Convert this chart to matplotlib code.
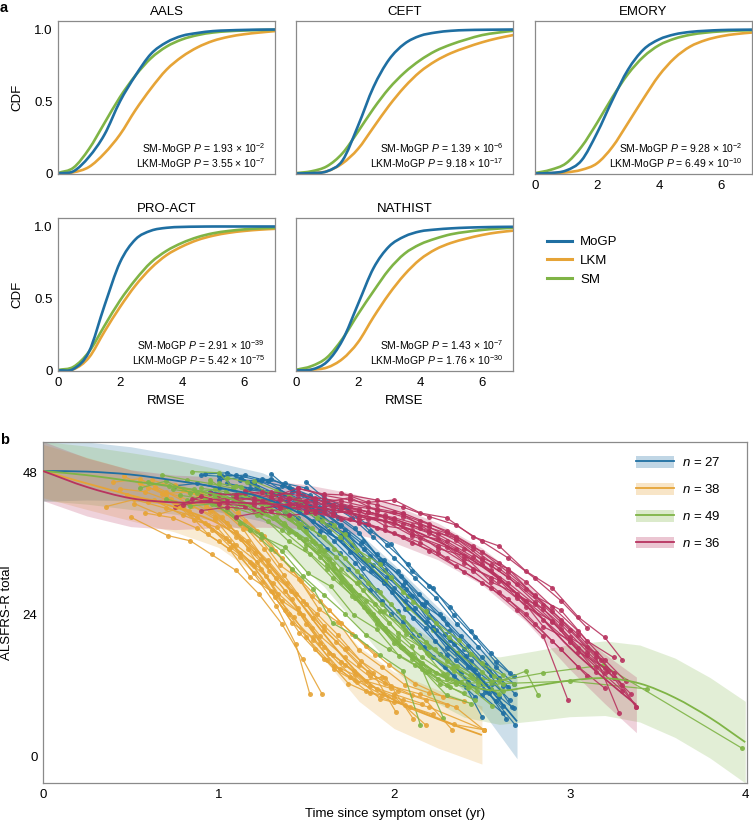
"""CDF of model RMSE per cohort (a) and clustered ALSFRS-R trajectories (b)."""

import matplotlib
matplotlib.use("Agg")
import matplotlib.pyplot as plt
import numpy as np
from matplotlib.lines import Line2D
from matplotlib.patches import Patch, PathPatch
from matplotlib.path import Path


plt.rcParams["font.family"] = ["Liberation Sans", "DejaVu Sans"]
plt.rcParams["font.size"] = 9.5
plt.rcParams["mathtext.fontset"] = "custom"
plt.rcParams["mathtext.rm"] = "Liberation Sans"
plt.rcParams["mathtext.it"] = "Liberation Sans:italic"
plt.rcParams["mathtext.bf"] = "Liberation Sans:bold"

# ---- panel a data -------------------------------------------------------
MODELS = ["MoGP", "LKM", "SM"]
MODEL_COLORS = {"MoGP": "#1f6fa2", "LKM": "#e6a437", "SM": "#7fb446"}

RMSE_GRID = [0, 0.5, 1, 1.5, 2, 2.5, 3, 3.5, 4, 4.5, 5, 5.5, 6, 6.5, 7]

AALS_CDF = {
	"MoGP": [0, 0.015, 0.115, 0.27, 0.5, 0.68, 0.83, 0.91, 0.955, 0.975, 0.988, 0.993, 0.996, 0.998, 0.999],
	"SM": [0.003, 0.04, 0.17, 0.35, 0.53, 0.68, 0.8, 0.88, 0.93, 0.96, 0.978, 0.987, 0.992, 0.995, 0.997],
	"LKM": [0, 0.008, 0.045, 0.14, 0.27, 0.44, 0.59, 0.72, 0.81, 0.875, 0.92, 0.948, 0.966, 0.978, 0.988],
}
CEFT_CDF = {
	"MoGP": [0, 0.002, 0.015, 0.09, 0.33, 0.6, 0.79, 0.9, 0.955, 0.978, 0.99, 0.995, 0.997, 0.998, 0.999],
	"SM": [0.002, 0.015, 0.05, 0.14, 0.29, 0.45, 0.59, 0.7, 0.785, 0.85, 0.895, 0.93, 0.96, 0.977, 0.99],
	"LKM": [0, 0.003, 0.015, 0.07, 0.17, 0.32, 0.47, 0.6, 0.705, 0.78, 0.835, 0.875, 0.91, 0.938, 0.96],
}
EMORY_CDF = {
	"MoGP": [0, 0.003, 0.02, 0.09, 0.28, 0.51, 0.72, 0.86, 0.93, 0.965, 0.982, 0.99, 0.995, 0.997, 0.998],
	"SM": [0.002, 0.025, 0.07, 0.185, 0.35, 0.53, 0.69, 0.81, 0.89, 0.935, 0.962, 0.977, 0.986, 0.991, 0.994],
	"LKM": [0, 0.002, 0.007, 0.025, 0.07, 0.185, 0.35, 0.52, 0.68, 0.8, 0.88, 0.925, 0.952, 0.968, 0.978],
}
PROACT_CDF = {
	"MoGP": [0, 0.01, 0.13, 0.45, 0.75, 0.91, 0.97, 0.99, 0.996, 0.998, 0.999, 0.999, 0.999, 0.999, 0.999],
	"SM": [0.003, 0.025, 0.13, 0.31, 0.485, 0.63, 0.75, 0.83, 0.885, 0.925, 0.952, 0.968, 0.979, 0.986, 0.99],
	"LKM": [0, 0.008, 0.09, 0.27, 0.44, 0.59, 0.71, 0.8, 0.86, 0.905, 0.935, 0.955, 0.968, 0.977, 0.983],
}
NATHIST_CDF = {
	"MoGP": [0, 0.006, 0.06, 0.21, 0.46, 0.71, 0.86, 0.93, 0.965, 0.978, 0.986, 0.991, 0.994, 0.996, 0.997],
	"SM": [0.004, 0.03, 0.09, 0.22, 0.39, 0.55, 0.7, 0.81, 0.875, 0.915, 0.945, 0.962, 0.975, 0.984, 0.99],
	"LKM": [0, 0.005, 0.02, 0.08, 0.195, 0.37, 0.53, 0.665, 0.77, 0.84, 0.885, 0.915, 0.94, 0.958, 0.97],
}

COHORTS = ["AALS", "CEFT", "EMORY", "PRO-ACT", "NATHIST"]
COHORT_CDF = [AALS_CDF, CEFT_CDF, EMORY_CDF, PROACT_CDF, NATHIST_CDF]
SM_PVALUES = [("1.93", "-2"), ("1.39", "-6"), ("9.28", "-2"), ("2.91", "-39"), ("1.43", "-7")]
LKM_PVALUES = [("3.55", "-7"), ("9.18", "-17"), ("6.49", "-10"), ("5.42", "-75"), ("1.76", "-30")]

# ---- panel b data -------------------------------------------------------
CLUSTER_LABELS = ["27", "38", "49", "36"]
CLUSTER_COLORS = ["#1f6fa2", "#e6a437", "#7fb446", "#b8335f"]

BLUE_T = [0, 0.25, 0.5, 0.75, 1.0, 1.25, 1.5, 1.75, 2.0, 2.25, 2.5, 2.7]
BLUE_MEAN = [48.3, 48.2, 47.7, 46.7, 45.5, 43.8, 40.5, 35, 28, 20.5, 13, 6]
BLUE_LOW = [43.2, 43.4, 43.3, 42.5, 41.4, 39.8, 36.5, 30.9, 23.6, 15.8, 7.8, -0.3]
BLUE_HIGH = [53.5, 53.2, 52.4, 51.1, 49.7, 48.0, 44.6, 39.2, 32.5, 25.3, 18.3, 13.3]

ORANGE_T = [0, 0.25, 0.5, 0.75, 1.0, 1.2, 1.4, 1.6, 1.8, 2.0, 2.25, 2.5]
ORANGE_MEAN = [48.3, 46.2, 44.2, 42.2, 39.4, 35.2, 28.6, 20.8, 14.0, 9.6, 6.4, 3.7]
ORANGE_LOW = [43.8, 41.8, 39.9, 38.0, 35.4, 31.2, 24.5, 16.5, 9.4, 4.8, 1.5, -1.2]
ORANGE_HIGH = [52.8, 50.6, 48.5, 46.4, 43.4, 39.2, 32.7, 25.1, 18.6, 14.4, 11.3, 8.6]

GREEN_T = [0, 0.25, 0.5, 0.75, 1.0, 1.2, 1.4, 1.6, 1.8, 2.0, 2.2, 2.4, 2.6, 2.8, 3.0, 3.2, 3.4, 3.6, 3.8, 4.0]
GREEN_MEAN = [48.3, 47.6, 46.6, 45.6, 44.2, 42.0, 38.4, 33.2, 26.4, 19.6, 15.0, 12.2, 11.2, 12.0, 12.9, 13.3, 12.4, 10.0, 6.6, 2.5]
GREEN_LOW = [43.3, 42.7, 41.8, 41.0, 39.8, 37.7, 34.1, 28.8, 21.8, 14.7, 9.8, 6.7, 5.5, 6.1, 6.8, 7.0, 5.9, 3.3, -0.2, -4.4]
GREEN_HIGH = [53.3, 52.5, 51.4, 50.2, 48.6, 46.3, 42.7, 37.6, 31.0, 24.5, 20.2, 17.7, 16.9, 17.9, 19.0, 19.6, 18.9, 16.7, 13.4, 9.4]

RED_T = [0, 0.25, 0.5, 0.75, 1.0, 1.25, 1.5, 1.75, 2.0, 2.25, 2.5, 2.75, 3.0, 3.2, 3.38]
RED_MEAN = [48.3, 45.6, 43.7, 43.0, 43.0, 42.8, 42.3, 41.2, 39.4, 36.4, 32.2, 26.2, 18.5, 13.2, 8.8]
RED_LOW = [43.3, 40.7, 38.9, 38.4, 38.7, 38.8, 38.6, 37.8, 36.2, 33.3, 29.1, 22.9, 14.8, 9.0, 4.1]
RED_HIGH = [53.3, 50.5, 48.5, 47.6, 47.3, 46.8, 46.0, 44.6, 42.6, 39.5, 35.3, 29.5, 22.2, 17.4, 13.5]

BLUE_PATIENTS = [
	[(0.9, 47.6), (1.02, 47.4), (1.15, 47.6), (1.28, 46.6), (1.4, 44.2), (1.52, 42.4), (1.64, 39.6), (1.76, 35.8), (1.88, 32.4), (2.0, 28.6), (2.12, 25.2), (2.24, 21.4), (2.36, 17.6), (2.48, 13.8), (2.6, 10.2)],
	[(1.0, 47.4), (1.1, 47.6), (1.22, 46.8), (1.34, 45.2), (1.46, 43.6), (1.58, 40.2), (1.7, 37.4), (1.82, 33.6), (1.94, 29.8), (2.06, 26.4), (2.18, 22.8), (2.3, 18.4), (2.42, 15.2), (2.55, 11.4), (2.68, 8.2)],
	[(1.12, 46.8), (1.24, 46.6), (1.36, 45.8), (1.48, 44.2), (1.6, 41.6), (1.72, 38.4), (1.84, 33.2), (1.96, 30.4), (2.08, 27.2), (2.2, 23.6), (2.32, 19.8), (2.44, 16.2), (2.56, 12.6), (2.66, 9.6)],
	[(1.3, 47.8), (1.42, 44.8), (1.54, 43.6), (1.66, 41.2), (1.78, 38.6), (1.9, 34.2), (2.02, 31.4), (2.14, 27.6), (2.26, 24.2), (2.38, 20.4), (2.5, 16.8), (2.6, 13.4), (2.69, 10.6)],
	[(1.05, 46.2), (1.18, 45.4), (1.3, 44.6), (1.42, 42.4), (1.54, 39.8), (1.66, 36.4), (1.78, 32.8), (1.9, 28.2), (2.02, 24.6), (2.14, 20.6), (2.26, 17.4), (2.38, 14.2), (2.5, 10.4), (2.62, 7.4)],
	[(0.95, 44.8), (1.08, 44.2), (1.2, 43.4), (1.32, 42.6), (1.45, 40.4), (1.57, 37.6), (1.69, 34.4), (1.81, 30.6), (1.93, 26.4), (2.05, 22.8), (2.17, 18.6), (2.29, 15.2), (2.41, 11.8), (2.5, 6.8)],
	[(1.2, 46.2), (1.33, 44.4), (1.45, 42.8), (1.58, 41.6), (1.7, 39.2), (1.82, 36.4), (1.94, 33.2), (2.06, 29.6), (2.18, 26.2), (2.3, 22.4), (2.42, 18.8), (2.54, 14.6), (2.65, 11.8)],
	[(1.4, 45.6), (1.52, 44.2), (1.64, 42.6), (1.76, 40.4), (1.88, 37.2), (2.0, 33.6), (2.12, 30.2), (2.24, 26.8), (2.36, 22.4), (2.48, 18.6), (2.58, 15.2), (2.68, 12.4)],
	[(1.15, 45.2), (1.27, 44.8), (1.39, 43.2), (1.51, 41.4), (1.63, 38.2), (1.75, 34.6), (1.87, 31.4), (1.99, 27.8), (2.11, 23.4), (2.23, 19.6), (2.35, 16.4), (2.47, 13.2), (2.58, 9.4), (2.69, 5.4)],
	[(1.5, 46.4), (1.6, 43.8), (1.72, 42.2), (1.84, 39.4), (1.96, 35.8), (2.08, 32.6), (2.2, 28.8), (2.32, 25.4), (2.44, 21.2), (2.55, 17.6), (2.66, 14.2)],
	[(0.75, 45.8), (0.88, 46.2), (1.0, 45.4), (1.12, 44.6), (1.25, 43.2), (1.38, 41.2), (1.5, 38.6), (1.62, 35.2), (1.74, 31.8), (1.86, 28.2), (1.98, 24.2), (2.1, 20.4), (2.22, 16.8), (2.34, 13.6), (2.46, 10.2)],
	[(1.35, 44.6), (1.47, 42.8), (1.59, 40.6), (1.71, 37.8), (1.83, 35.2), (1.95, 31.6), (2.07, 28.4), (2.19, 24.6), (2.31, 21.2), (2.43, 17.4), (2.55, 13.8), (2.67, 8.4)],
	[(0.92, 47.8), (1.05, 48.0), (1.18, 46.2), (1.3, 47.0), (1.42, 45.2), (1.55, 43.0), (1.68, 40.4), (1.8, 37.8), (1.92, 33.2), (2.04, 30.6), (2.16, 25.8), (2.28, 23.4), (2.4, 18.2), (2.52, 15.6), (2.62, 12.0)],
	[(1.1, 44.2), (1.22, 45.6), (1.34, 43.0), (1.46, 41.6), (1.58, 38.2), (1.7, 36.8), (1.82, 32.0), (1.94, 29.4), (2.06, 25.0), (2.18, 21.8), (2.3, 17.2), (2.42, 12.6), (2.54, 10.8), (2.64, 6.4)],
	[(1.25, 47.0), (1.38, 46.2), (1.5, 45.4), (1.62, 43.0), (1.74, 41.8), (1.86, 38.2), (1.98, 36.0), (2.1, 31.4), (2.22, 28.6), (2.34, 24.0), (2.46, 20.2), (2.58, 16.0), (2.68, 13.6)],
	[(1.45, 43.2), (1.57, 42.0), (1.69, 39.0), (1.81, 36.2), (1.93, 32.8), (2.05, 29.0), (2.17, 25.6), (2.29, 20.8), (2.41, 17.0), (2.52, 11.0), (2.62, 8.6)],
	[(1.0, 46.8), (1.13, 47.2), (1.25, 45.0), (1.37, 44.4), (1.5, 42.0), (1.62, 39.2), (1.74, 37.6), (1.86, 34.0), (1.98, 30.2), (2.1, 27.2), (2.22, 22.0), (2.34, 19.0), (2.46, 14.8), (2.56, 12.4)],
]

ORANGE_PATIENTS = [
	[(0.46, 47.4), (0.6, 45.5), (0.78, 44), (0.95, 41.5), (1.1, 38), (1.24, 33.5), (1.38, 28), (1.5, 22.5), (1.63, 17.5), (1.78, 13)],
	[(0.36, 42.3), (0.52, 43.5), (0.7, 42), (0.88, 40.5), (1.04, 37), (1.18, 33), (1.32, 27), (1.46, 21), (1.6, 16.5), (1.75, 13.5), (1.93, 10.5), (2.09, 8.5), (2.34, 5.5), (2.51, 4.6)],
	[(0.44, 45.3), (0.58, 44.8), (0.75, 43), (0.92, 39.5), (1.06, 36.5), (1.2, 31), (1.33, 25.5), (1.44, 19), (1.52, 10.6)],
	[(0.5, 40.5), (0.71, 37.4), (0.84, 36.5), (0.96, 34.2), (1.1, 31.5), (1.23, 27.5), (1.36, 22.5), (1.48, 16.5), (1.59, 10.6)],
	[(0.55, 46.2), (0.68, 44.5), (0.86, 44.8), (1.0, 42.2), (1.14, 38.5), (1.28, 32.5), (1.41, 28), (1.54, 23.5), (1.67, 19.5), (1.8, 15.5), (1.95, 12.5), (2.1, 10.5), (2.3, 8.8)],
	[(0.64, 45.6), (0.76, 42.2), (0.9, 43.2), (1.02, 40.5), (1.13, 36.8), (1.27, 30.5), (1.4, 24.2), (1.54, 19.8), (1.69, 14.8), (1.84, 11.2), (2.0, 9.2)],
	[(0.7, 44.2), (0.83, 41.6), (0.96, 38.4), (1.08, 35.8), (1.19, 32.6), (1.31, 29.4), (1.45, 25.2), (1.58, 20.4), (1.72, 16.8), (1.86, 13.6), (2.02, 11.2), (2.18, 9.6), (2.33, 4.6)],
	[(0.8, 45.2), (0.92, 43.8), (1.05, 41.2), (1.16, 38.6), (1.26, 35.2), (1.37, 30.8), (1.48, 26.4), (1.6, 22.2), (1.73, 18.4), (1.88, 14.2), (2.01, 7.6)],
	[(0.85, 42.4), (0.98, 40.6), (1.1, 37.2), (1.21, 34.4), (1.33, 30.2), (1.44, 27.6), (1.56, 24.2), (1.68, 20.6), (1.81, 16.2), (1.95, 13.4), (2.11, 6.4)],
	[(0.58, 41.2), (0.74, 40.4), (0.88, 38.6), (1.0, 36.4), (1.12, 33.8), (1.25, 29.6), (1.38, 24.8), (1.5, 20.2), (1.62, 16.4), (1.74, 12.4), (1.86, 10.8), (2.0, 10.2), (2.18, 5.4)],
	[(0.9, 44.6), (1.02, 43.2), (1.15, 39.8), (1.26, 37.4), (1.36, 33.6), (1.47, 29.8), (1.58, 26.4), (1.7, 22.6), (1.84, 18.8), (1.97, 15.6), (2.12, 12.4), (2.28, 10.2)],
	[(0.48, 44.2), (0.63, 43.4), (0.8, 40.8), (0.94, 39.2), (1.07, 35.4), (1.2, 32.2), (1.31, 27.8), (1.43, 23.6), (1.55, 18.2), (1.66, 14.8), (1.79, 12.6), (1.93, 13.5)],
	[(1.0, 44.2), (1.11, 41.4), (1.22, 38.2), (1.32, 34.8), (1.42, 31.6), (1.53, 27.2), (1.63, 24.8), (1.76, 20.8), (1.89, 17.2)],
	[(0.62, 46.8), (0.79, 45.2), (0.93, 42.4), (1.05, 39.6), (1.17, 35.2), (1.29, 31.4), (1.42, 26.6), (1.53, 21.8), (1.65, 17.2), (1.77, 14.6), (1.9, 11.4), (2.05, 9.6), (2.2, 8.4), (2.51, 4.6)],
	[(0.4, 46.4), (0.55, 47.0), (0.7, 44.8), (0.84, 42.6), (0.98, 40.2), (1.1, 35.8), (1.22, 33.0), (1.34, 27.6), (1.46, 24.4), (1.58, 19.2), (1.7, 16.0), (1.84, 12.8), (1.98, 11.6)],
	[(0.52, 42.8), (0.66, 41.0), (0.8, 42.2), (0.94, 37.6), (1.06, 35.2), (1.18, 30.4), (1.3, 28.0), (1.42, 22.6), (1.54, 20.2), (1.66, 15.4), (1.78, 13.8), (1.92, 9.8), (2.06, 8.8), (2.22, 7.2)],
	[(0.75, 46.0), (0.88, 44.4), (1.0, 43.0), (1.12, 39.4), (1.24, 36.8), (1.35, 32.4), (1.46, 30.0), (1.57, 25.0), (1.68, 22.8), (1.8, 18.0), (1.93, 15.2), (2.06, 12.2), (2.2, 10.8), (2.4, 9.4)],
	[(0.6, 43.0), (0.73, 43.6), (0.86, 40.0), (0.99, 38.8), (1.12, 34.4), (1.24, 31.8), (1.36, 26.4), (1.48, 24.0), (1.6, 18.6), (1.72, 15.6), (1.86, 12.0), (2.0, 10.6), (2.16, 9.0)],
	[(0.95, 41.8), (1.06, 39.0), (1.17, 36.4), (1.28, 33.2), (1.39, 29.4), (1.5, 25.8), (1.6, 21.4), (1.72, 18.2), (1.85, 14.4), (1.98, 12.0), (2.15, 10.6), (2.35, 8.4), (2.51, 4.6)],
]

GREEN_PATIENTS = [
	[(0.68, 47.6), (0.82, 46.8), (0.95, 46.2), (1.08, 45.4), (1.2, 43.2), (1.33, 40.6), (1.46, 37.2), (1.58, 33.8), (1.7, 29.6), (1.83, 25.4), (1.96, 21.2), (2.1, 17.4), (2.24, 14.2), (2.38, 12.6)],
	[(0.85, 48.2), (1.0, 48.0), (1.12, 44.4), (1.25, 42.8), (1.38, 39.2), (1.5, 36.8), (1.62, 32.4), (1.75, 28.6), (1.88, 24.2), (2.02, 19.6), (2.16, 15.8), (2.3, 13.2)],
	[(0.74, 45.2), (0.88, 44.6), (1.02, 43.4), (1.15, 42.2), (1.28, 39.8), (1.4, 36.4), (1.52, 34.2), (1.65, 30.2), (1.78, 26.8), (1.9, 22.4), (2.04, 18.6), (2.18, 14.4), (2.32, 11.8), (2.46, 9.6)],
	[(0.95, 46.8), (1.08, 44.2), (1.21, 43.6), (1.34, 41.2), (1.46, 38.8), (1.58, 35.6), (1.7, 31.8), (1.82, 28.2), (1.94, 24.6), (2.07, 20.8), (2.2, 17.2), (2.34, 14.6), (2.48, 12.4)],
	[(1.1, 45.8), (1.22, 43.8), (1.35, 42.6), (1.47, 39.4), (1.6, 37.2), (1.72, 33.6), (1.85, 29.4), (1.98, 25.8), (2.1, 21.6), (2.23, 18.2), (2.36, 15.4), (2.5, 13.2)],
	[(0.78, 44.2), (0.92, 43.6), (1.05, 41.8), (1.18, 38.4), (1.3, 35.2), (1.42, 31.8), (1.54, 28.4), (1.65, 22.6), (1.78, 20.4), (1.92, 17.2), (2.05, 14.6), (2.15, 5.4)],
	[(1.0, 46.2), (1.13, 45.6), (1.26, 43.4), (1.4, 41.8), (1.53, 38.6), (1.66, 35.2), (1.79, 31.4), (1.92, 27.8), (2.05, 23.6), (2.18, 19.4), (2.3, 16.2), (2.43, 13.8), (2.55, 11.4)],
	[(0.9, 45.4), (1.04, 44.8), (1.18, 42.6), (1.31, 40.4), (1.44, 37.6), (1.57, 34.8), (1.7, 30.2), (1.84, 26.4), (1.97, 22.6), (2.1, 18.8), (2.28, 6.6)],
	[(1.15, 44.6), (1.28, 42.4), (1.41, 40.2), (1.54, 36.4), (1.67, 33.8), (1.8, 29.6), (1.93, 25.8), (2.06, 21.4), (2.2, 18.6), (2.34, 15.2), (2.48, 12.8), (2.6, 10.6)],
	[(1.25, 44.8), (1.4, 40.4), (1.55, 36.2), (1.7, 30.4), (1.85, 24.6), (2.0, 19.2), (2.15, 15.4), (2.3, 12.2), (2.45, 13.4), (2.6, 12.8), (2.75, 14.5), (2.82, 10.5)],
	[(1.3, 43.2), (1.45, 39.6), (1.6, 34.8), (1.75, 28.8), (1.9, 23.2), (2.05, 18.4), (2.2, 14.6), (2.35, 12.4), (2.55, 12.6), (2.85, 14.2), (3.19, 15.5), (3.98, 1.5)],
	[(1.35, 42.4), (1.5, 38.2), (1.65, 32.6), (1.8, 27.4), (1.95, 21.8), (2.1, 16.6), (2.25, 13.2), (2.42, 11.6), (2.62, 12.4), (3.0, 12.8), (3.44, 11.5)],
	[(0.6, 46.4), (0.72, 45.8), (0.86, 45.2), (0.98, 44.0), (1.1, 42.0), (1.22, 40.8), (1.36, 38.4), (1.49, 35.2), (1.62, 31.8), (1.76, 27.2), (1.89, 23.4), (2.02, 20.2), (2.16, 16.8), (2.3, 14.0)],
	[(1.05, 47.2), (1.16, 46.4), (1.29, 44.6), (1.42, 42.2), (1.56, 40.4), (1.69, 37.2), (1.82, 33.4), (1.95, 29.8), (2.08, 25.2), (2.22, 21.4), (2.36, 17.6), (2.5, 14.4), (2.62, 11.2)],
	[(0.82, 43.4), (0.96, 42.8), (1.1, 40.4), (1.24, 37.6), (1.36, 34.8), (1.48, 30.6), (1.6, 27.4), (1.72, 24.2), (1.84, 20.6), (1.97, 18.2), (2.12, 15.6), (2.26, 12.4), (2.4, 10.8)],
	[(0.55, 45.4), (0.7, 46.6), (0.84, 44.6), (0.98, 45.2), (1.12, 42.8), (1.26, 41.6), (1.4, 38.0), (1.53, 36.4), (1.66, 32.0), (1.79, 29.4), (1.92, 24.6), (2.05, 22.2), (2.19, 17.6), (2.33, 15.0), (2.47, 11.2)],
	[(0.98, 44.0), (1.11, 43.6), (1.24, 41.0), (1.37, 39.6), (1.5, 35.8), (1.63, 33.4), (1.76, 28.2), (1.89, 25.8), (2.02, 21.0), (2.15, 18.6), (2.28, 14.0), (2.42, 12.0), (2.56, 8.6)],
	[(1.2, 46.6), (1.33, 45.0), (1.46, 43.4), (1.59, 39.8), (1.72, 37.6), (1.85, 33.2), (1.98, 30.4), (2.11, 26.2), (2.24, 22.6), (2.37, 19.8), (2.5, 15.8), (2.62, 13.8)],
	[(0.7, 43.6), (0.84, 42.4), (0.98, 42.8), (1.12, 39.6), (1.25, 37.2), (1.38, 35.4), (1.51, 31.0), (1.64, 28.8), (1.77, 24.0), (1.9, 21.6), (2.03, 17.0), (2.16, 14.8), (2.3, 10.4), (2.44, 9.0)],
	[(1.4, 44.0), (1.53, 41.4), (1.66, 39.2), (1.79, 35.0), (1.92, 32.6), (2.05, 27.8), (2.18, 24.6), (2.31, 20.2), (2.44, 17.4), (2.57, 13.6), (2.68, 12.4)],
]

RED_PATIENTS = [
	[(0.8, 42.6), (0.95, 43.4), (1.1, 43.8), (1.25, 43.2), (1.4, 43.6), (1.55, 42.8), (1.7, 42.2), (1.85, 41.4), (2.0, 40.2), (2.15, 38.6), (2.3, 36.4), (2.45, 33.8), (2.6, 30.2), (2.75, 26.4), (2.9, 22.8), (3.05, 18.4), (3.2, 14.2)],
	[(1.0, 44.2), (1.15, 44.6), (1.3, 43.8), (1.45, 45.4), (1.6, 44.2), (1.75, 43.4), (1.9, 42.6), (2.05, 41.2), (2.2, 39.4), (2.35, 37.2), (2.5, 34.6), (2.65, 31.2), (2.8, 27.4), (2.95, 23.2), (3.1, 18.6), (3.25, 14.2), (3.38, 8.4)],
	[(0.9, 41.6), (1.05, 42.2), (1.2, 41.8), (1.35, 42.4), (1.5, 41.6), (1.65, 40.8), (1.8, 39.6), (1.95, 38.4), (2.1, 36.2), (2.25, 34.4), (2.4, 31.2), (2.55, 28.6), (2.7, 24.8), (2.85, 20.4), (2.99, 9.6)],
	[(1.2, 43.2), (1.35, 43.8), (1.5, 43.2), (1.65, 42.6), (1.8, 41.8), (1.95, 40.6), (2.1, 39.2), (2.25, 37.6), (2.4, 35.2), (2.55, 32.4), (2.7, 29.2), (2.85, 25.6), (3.0, 21.4), (3.15, 16.8), (3.28, 7.5)],
	[(1.1, 40.6), (1.25, 41.4), (1.4, 40.8), (1.55, 41.2), (1.7, 40.2), (1.85, 39.4), (2.0, 37.8), (2.15, 36.2), (2.3, 33.6), (2.45, 31.4), (2.6, 27.8), (2.75, 24.2), (2.9, 19.6), (3.05, 15.2), (3.2, 11.6)],
	[(1.3, 44.8), (1.45, 44.2), (1.6, 43.6), (1.75, 42.4), (1.9, 41.8), (2.05, 40.6), (2.2, 38.8), (2.35, 36.6), (2.5, 33.2), (2.65, 30.4), (2.8, 26.2), (2.95, 22.4), (3.1, 17.8), (3.25, 13.4), (3.38, 8.4)],
	[(0.85, 43.6), (1.0, 42.8), (1.15, 42.4), (1.3, 41.6), (1.45, 42.2), (1.6, 41.4), (1.75, 40.2), (1.9, 38.6), (2.05, 37.2), (2.2, 34.8), (2.35, 32.2), (2.5, 29.4), (2.65, 26.6), (2.8, 22.4), (2.95, 18.2), (3.1, 13.6)],
	[(1.4, 42.6), (1.55, 43.8), (1.7, 43.2), (1.85, 42.2), (2.0, 41.4), (2.15, 39.8), (2.3, 38.2), (2.45, 35.6), (2.6, 32.8), (2.75, 29.6), (2.9, 25.4), (3.05, 21.2), (3.2, 16.4), (3.32, 12.8)],
	[(1.45, 45.4), (1.6, 44.4), (1.75, 44.2), (1.9, 43.4), (2.05, 42.2), (2.2, 40.6), (2.35, 39.2), (2.5, 36.4), (2.65, 33.6), (2.8, 30.2), (2.95, 26.4), (3.1, 21.8)],
	[(1.05, 43.6), (1.2, 42.6), (1.35, 43.4), (1.5, 42.4), (1.65, 41.8), (1.8, 40.6), (1.95, 39.8), (2.1, 37.4), (2.25, 35.6), (2.4, 32.8), (2.55, 30.2), (2.7, 26.8), (2.85, 23.2), (3.0, 19.4), (3.15, 15.2), (3.3, 11.2)],
	[(1.6, 42.4), (1.75, 41.6), (1.9, 40.8), (2.05, 39.4), (2.2, 37.8), (2.35, 35.2), (2.5, 32.6), (2.65, 29.4), (2.8, 25.8), (2.95, 21.6), (3.1, 17.2), (3.22, 14.6)],
	[(0.95, 44.6), (1.1, 44.2), (1.25, 44.8), (1.4, 43.8), (1.55, 43.4), (1.7, 42.6), (1.85, 41.4), (2.0, 40.4), (2.15, 39.2), (2.3, 37.8), (2.45, 35.2), (2.6, 31.8), (2.75, 28.4), (2.9, 24.6), (3.05, 20.6), (3.18, 16.4)],
	[(1.15, 45.0), (1.3, 44.0), (1.45, 44.8), (1.6, 43.0), (1.75, 43.8), (1.9, 41.6), (2.05, 41.0), (2.2, 38.2), (2.35, 37.0), (2.5, 33.6), (2.65, 31.8), (2.8, 27.2), (2.95, 24.8), (3.1, 19.6), (3.25, 16.8)],
	[(0.75, 42.2), (0.9, 44.0), (1.05, 43.0), (1.2, 43.8), (1.35, 42.0), (1.5, 43.0), (1.65, 41.2), (1.8, 41.6), (1.95, 39.0), (2.1, 38.4), (2.25, 35.2), (2.4, 34.0), (2.55, 29.6), (2.7, 27.6), (2.85, 22.0), (3.0, 19.8), (3.15, 14.4)],
	[(1.5, 41.4), (1.65, 42.6), (1.8, 40.0), (1.95, 40.8), (2.1, 37.6), (2.25, 36.8), (2.4, 33.4), (2.55, 31.6), (2.7, 27.4), (2.85, 25.0), (3.0, 20.2), (3.15, 17.6), (3.3, 12.2)],
	[(1.25, 42.0), (1.4, 42.8), (1.55, 41.6), (1.7, 42.0), (1.85, 40.2), (2.0, 39.6), (2.15, 37.0), (2.3, 35.4), (2.45, 31.8), (2.6, 29.8), (2.75, 25.4), (2.9, 23.0), (3.05, 17.8), (3.2, 15.0), (3.35, 10.6)],
	[(1.7, 44.6), (1.85, 43.0), (2.0, 43.4), (2.15, 41.2), (2.3, 40.4), (2.45, 37.2), (2.6, 35.6), (2.75, 31.4), (2.9, 28.6), (3.05, 23.6), (3.2, 20.2), (3.3, 16.4)],
]


def smooth_path(x, y):
	"""Cubic Hermite path through the given points (drawn as Bezier segments)."""
	x = np.asarray(x, float)
	y = np.asarray(y, float)
	slope = np.empty_like(y)
	slope[1:-1] = (y[2:] - y[:-2]) / (x[2:] - x[:-2])
	slope[0] = (y[1] - y[0]) / (x[1] - x[0])
	slope[-1] = (y[-1] - y[-2]) / (x[-1] - x[-2])
	verts = [(x[0], y[0])]
	codes = [Path.MOVETO]
	for i in range(len(x) - 1):
		h = x[i + 1] - x[i]
		verts += [
			(x[i] + h / 3, y[i] + slope[i] * h / 3),
			(x[i + 1] - h / 3, y[i + 1] - slope[i + 1] * h / 3),
			(x[i + 1], y[i + 1]),
		]
		codes += [Path.CURVE4] * 3
	return Path(verts, codes)


def style_spines(ax):
	for spine in ax.spines.values():
		spine.set_color("#8a8a8a")
		spine.set_linewidth(0.9)


W, H = 753, 823
fig = plt.figure(figsize=(W / 100, H / 100), dpi=100)

# ---- panel a -------------------------------------------------------------
lefts = [58, 296, 535, 58, 296]
tops = [21, 21, 21, 218, 218]
for i, (name, cdf) in enumerate(zip(COHORTS, COHORT_CDF)):
	ax = fig.add_axes([lefts[i] / W, 1 - (tops[i] + 153) / H, 217 / W, 153 / H])
	for model in ["LKM", "SM", "MoGP"]:
		ax.add_patch(PathPatch(smooth_path(RMSE_GRID, cdf[model]), fill=False,
							   edgecolor=MODEL_COLORS[model], lw=1.9, capstyle="round"))
	ax.set_xlim(0, 7)
	ax.set_ylim(-0.004, 1.058)
	ax.set_xticks([0, 2, 4, 6])
	ax.set_yticks([0, 0.5, 1.0])
	ax.set_yticklabels(["0", "0.5", "1.0"])
	ax.tick_params(length=0, pad=4)
	if i not in (2, 3, 4):
		ax.set_xticklabels([])
	if i not in (0, 3):
		ax.set_yticklabels([])
	else:
		ax.set_ylabel("CDF")
		ax.yaxis.set_label_coords(-0.161, 0.5)
	if i >= 3:
		ax.set_xlabel("RMSE")
		ax.xaxis.set_label_coords(0.5, -0.16)
	ax.set_title(name, pad=4, fontsize=9.5)
	sm_mant, sm_exp = SM_PVALUES[i]
	lkm_mant, lkm_exp = LKM_PVALUES[i]
	ax.text(0.955, 0.172, f"SM-MoGP $P$ = {sm_mant} \u00d7 10$^{{{sm_exp}}}$",
			transform=ax.transAxes, ha="right", va="center", fontsize=7.5)
	ax.text(0.955, 0.072, f"LKM-MoGP $P$ = {lkm_mant} \u00d7 10$^{{{lkm_exp}}}$",
			transform=ax.transAxes, ha="right", va="center", fontsize=7.5)
	style_spines(ax)

fig.legend(
	handles=[Line2D([], [], color=MODEL_COLORS[m], lw=2.2) for m in MODELS],
	labels=MODELS,
	loc="upper left",
	bbox_to_anchor=(547 / W, 1 - 236 / H),
	frameon=False,
	handlelength=1.9,
	handletextpad=0.6,
	labelspacing=0.5,
	borderpad=0,
	borderaxespad=0,
)

fig.text(0.0, 1 - 8 / H, "a", fontsize=10.5, fontweight="bold", ha="left", va="center")
fig.text(0.0, 1 - 440 / H, "b", fontsize=10.5, fontweight="bold", ha="left", va="center")

# ---- panel b -------------------------------------------------------------
axb = fig.add_axes([43 / W, 1 - 783 / H, 704 / W, 341 / H])

bands = [
	(BLUE_T, BLUE_MEAN, BLUE_LOW, BLUE_HIGH),
	(ORANGE_T, ORANGE_MEAN, ORANGE_LOW, ORANGE_HIGH),
	(GREEN_T, GREEN_MEAN, GREEN_LOW, GREEN_HIGH),
	(RED_T, RED_MEAN, RED_LOW, RED_HIGH),
]
patients = [BLUE_PATIENTS, ORANGE_PATIENTS, GREEN_PATIENTS, RED_PATIENTS]

for (t, mean, low, high), color in zip(bands, CLUSTER_COLORS):
	axb.fill_between(t, low, high, color=color, alpha=0.22, lw=0, zorder=1)

draw_order = [2, 1, 0, 3]
for k in draw_order:
	color = CLUSTER_COLORS[k]
	for traj in patients[k]:
		tt, ss = zip(*traj)
		axb.plot(tt, ss, "-o", color=color, lw=0.9, ms=3.6, mew=0, alpha=0.9, zorder=2 + k * 0.1)

for (t, mean, low, high), color in zip(bands, CLUSTER_COLORS):
	axb.add_patch(PathPatch(smooth_path(t, mean), fill=False, edgecolor=color, lw=1.3, zorder=3))

axb.set_xlim(0, 4.01)
axb.set_ylim(-4.4, 53.2)
axb.set_xticks([0, 1, 2, 3, 4])
axb.set_yticks([0, 24, 48])
axb.tick_params(length=0, pad=4)
axb.set_xlabel("Time since symptom onset (yr)")
axb.xaxis.set_label_coords(0.5, -0.072)
axb.set_ylabel("ALSFRS-R total")
axb.yaxis.set_label_coords(-0.042, 0.5)
style_spines(axb)

handles_b = [
	(Patch(facecolor=c, alpha=0.28, edgecolor="none"), Line2D([], [], color=c, lw=1.3))
	for c in CLUSTER_COLORS
]
fig.legend(
	handles=handles_b,
	labels=[f"$n$ = {n}" for n in CLUSTER_LABELS],
	loc="upper left",
	bbox_to_anchor=(636 / W, 1 - 456 / H),
	frameon=False,
	handlelength=2.9,
	handleheight=1.0,
	handletextpad=0.6,
	labelspacing=1.02,
	borderpad=0,
	borderaxespad=0,
)

fig.savefig("out.png", dpi=100)
